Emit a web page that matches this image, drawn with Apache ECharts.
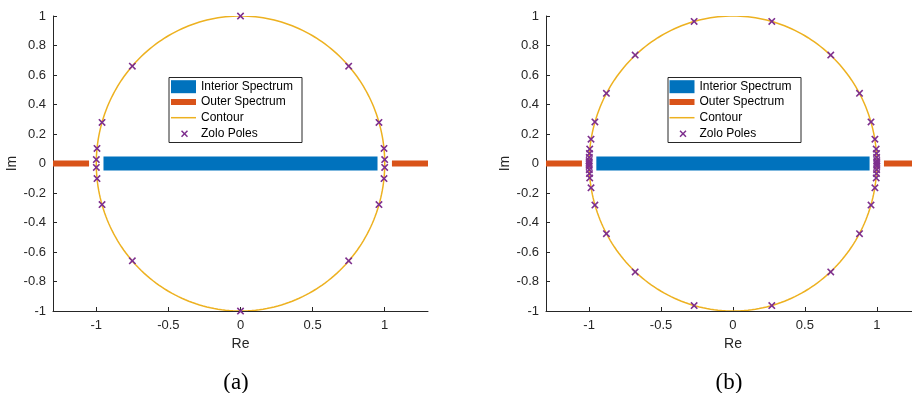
<!DOCTYPE html>
<html>
<head>
<meta charset="utf-8">
<script src="https://cdn.jsdelivr.net/npm/echarts@6/dist/echarts.min.js"></script>
<style>
  html, body { margin: 0; padding: 0; background: #fff; }
  #chart { width: 912px; height: 393px; }
</style>
</head>
<body>
<div id="chart"></div>
<script>
// spectrum intervals on the real axis
var interiorSpectrum = [[-0.95, 0], [0.95, 0]];
var outerSpectrum = [[-1.3, 0], [-1.05, 0], ['-', '-'], [1.05, 0], [1.3, 0]];
// contour: centre x, centre y, radius
var contour = [[0, 0, 1]];

// zolotarev poles, plot (a)
var polesA = [
    [0, 1], [0, -1],
    [0.75, 0.66], [-0.75, 0.66], [0.75, -0.66], [-0.75, -0.66],
    [0.96, 0.278], [-0.96, 0.278], [0.96, -0.278], [-0.96, -0.278],
    [0.995, 0.102], [-0.995, 0.102], [0.995, -0.102], [-0.995, -0.102],
    [0.9996, 0.027], [-0.9996, 0.027], [0.9996, -0.027], [-0.9996, -0.027]
];
// zolotarev poles, plot (b)
var polesB = [
    [0.27, 0.963], [-0.27, 0.963], [0.27, -0.963], [-0.27, -0.963],
    [0.68, 0.735], [-0.68, 0.735], [0.68, -0.735], [-0.68, -0.735],
    [0.88, 0.476], [-0.88, 0.476], [0.88, -0.476], [-0.88, -0.476],
    [0.96, 0.282], [-0.96, 0.282], [0.96, -0.282], [-0.96, -0.282],
    [0.987, 0.165], [-0.987, 0.165], [0.987, -0.165], [-0.987, -0.165],
    [0.996, 0.098], [-0.996, 0.098], [0.996, -0.098], [-0.996, -0.098],
    [0.998, 0.068], [-0.998, 0.068], [0.998, -0.068], [-0.998, -0.068],
    [0.999, 0.042], [-0.999, 0.042], [0.999, -0.042], [-0.999, -0.042],
    [1.0, 0.02], [-1.0, 0.02], [1.0, -0.02], [-1.0, -0.02],
    [1.0, 0.006], [-1.0, 0.006], [1.0, -0.006], [-1.0, -0.006]
];

var xTicks = [-1, -0.5, 0, 0.5, 1];
var legendNames = ['Interior Spectrum', 'Outer Spectrum', 'Contour', 'Zolo Poles'];

var axisColor = '#262626';
var xMark = 'path://M0,1.5L1.5,0L5,3.5L8.5,0L10,1.5L6.5,5L10,8.5L8.5,10L5,6.5L1.5,10L0,8.5L3.5,5Z';

var chart = echarts.init(document.getElementById('chart'));

function contourItem(params, api) {
    var pts = [];
    var cx = api.value(0), cy = api.value(1), r = api.value(2);
    for (var k = 0; k <= 240; k++) {
        var t = 2 * Math.PI * k / 240;
        pts.push(api.coord([cx + r * Math.cos(t), cy + r * Math.sin(t)]));
    }
    return {
        type: 'polyline',
        shape: { points: pts },
        style: { stroke: '#EDB120', lineWidth: 1.5, fill: null }
    };
}

function xAxisOpt(idx, maxV, namePad) {
    return {
        type: 'value', gridIndex: idx, min: -1.3, max: maxV,
        name: 'Re', nameLocation: 'middle', nameGap: 25,
        nameTextStyle: { color: axisColor, fontSize: 14, fontFamily: 'Liberation Sans', padding: namePad },
        axisLine: { show: true, onZero: false, lineStyle: { color: axisColor, width: 1 } },
        axisTick: { show: true, inside: true, length: 4, customValues: xTicks, lineStyle: { color: axisColor } },
        axisLabel: { customValues: xTicks, color: axisColor, fontSize: 13, fontFamily: 'Liberation Sans', margin: 8 },
        splitLine: { show: false }
    };
}

function yAxisOpt(idx) {
    return {
        type: 'value', gridIndex: idx, min: -1, max: 1, interval: 0.2,
        name: 'Im', nameLocation: 'middle', nameGap: 34, nameRotate: 90,
        nameTextStyle: { color: axisColor, fontSize: 14, fontFamily: 'Liberation Sans' },
        axisLine: { show: true, onZero: false, lineStyle: { color: axisColor, width: 1 } },
        axisTick: { show: true, inside: true, length: 4, lineStyle: { color: axisColor } },
        axisLabel: { color: axisColor, fontSize: 13, fontFamily: 'Liberation Sans', margin: 7 },
        splitLine: { show: false }
    };
}

function seriesFor(idx, poles) {
    return [
        {
            name: 'Interior Spectrum', type: 'line', xAxisIndex: idx, yAxisIndex: idx,
            data: interiorSpectrum, symbol: 'none', silent: true,
            itemStyle: { color: '#0072BD' },
            lineStyle: { color: '#0072BD', width: 14, cap: 'butt' }
        },
        {
            name: 'Outer Spectrum', type: 'line', xAxisIndex: idx, yAxisIndex: idx,
            data: outerSpectrum, symbol: 'none', silent: true, connectNulls: false,
            itemStyle: { color: '#D95319' },
            lineStyle: { color: '#D95319', width: 6, cap: 'butt' }
        },
        {
            name: 'Contour', type: 'custom', xAxisIndex: idx, yAxisIndex: idx,
            data: contour, renderItem: contourItem, silent: true, clip: true,
            itemStyle: { color: '#EDB120' }
        },
        {
            name: 'Zolo Poles', type: 'scatter', xAxisIndex: idx, yAxisIndex: idx,
            data: poles, symbol: xMark, symbolSize: 7.5, silent: true,
            itemStyle: { color: '#7E2F8E', opacity: 1 }
        }
    ];
}

var rowCenters = [86.7, 102, 117.7, 133.7];
var rowIcons = [
    { icon: 'rect', w: 25, h: 13, dx: 0, pad: 0 },
    { icon: 'rect', w: 25, h: 6, dx: 0, pad: 0 },
    { icon: 'rect', w: 25, h: 1.5, dx: 0, pad: 0 },
    { icon: xMark, w: 7, h: 7, dx: 10, pad: 8 }
];

function legendsFor(x0) {
    var out = [];
    for (var i = 0; i < legendNames.length; i++) {
        var ic = rowIcons[i];
        out.push({
            data: [legendNames[i]],
            left: x0 + ic.dx, top: rowCenters[i] - 7, padding: 0,
            itemWidth: ic.w, itemHeight: ic.h, icon: ic.icon,
            selectedMode: false,
            textStyle: { color: '#000', fontSize: 12, fontFamily: 'Liberation Sans', lineHeight: 14,
                         padding: [0, 0, 0, ic.pad] }
        });
    }
    return out;
}

var boxA = { x: 169, y: 77.5, w: 133, h: 65 };
var boxB = { x: 668, y: 77.5, w: 133, h: 65 };

chart.setOption({
    animation: false,
    backgroundColor: '#fff',
    title: [
        { text: '(a)', left: 231, top: 366, textAlign: 'center',
          textStyle: { fontFamily: 'Liberation Serif', fontWeight: 'normal', fontSize: 23, color: '#000' } },
        { text: '(b)', left: 724, top: 366, textAlign: 'center',
          textStyle: { fontFamily: 'Liberation Serif', fontWeight: 'normal', fontSize: 23, color: '#000' } }
    ],
    grid: [
        { left: 53, right: 484, top: 16, bottom: 82 },
        { left: 546, right: 0, top: 16, bottom: 82 }
    ],
    xAxis: [xAxisOpt(0, 1.3, 0), xAxisOpt(1, 1.245, [0, 0, 0, 8])],
    yAxis: [yAxisOpt(0), yAxisOpt(1)],
    legend: legendsFor(171).concat(legendsFor(669.5)),
    graphic: [
        { type: 'rect', shape: { x: boxA.x, y: boxA.y, width: boxA.w, height: boxA.h },
          style: { fill: '#fff', stroke: axisColor, lineWidth: 1 }, z: 3 },
        { type: 'rect', shape: { x: boxB.x, y: boxB.y, width: boxB.w, height: boxB.h },
          style: { fill: '#fff', stroke: axisColor, lineWidth: 1 }, z: 3 }
    ],
    series: seriesFor(0, polesA).concat(seriesFor(1, polesB))
});
</script>
</body>
</html>
